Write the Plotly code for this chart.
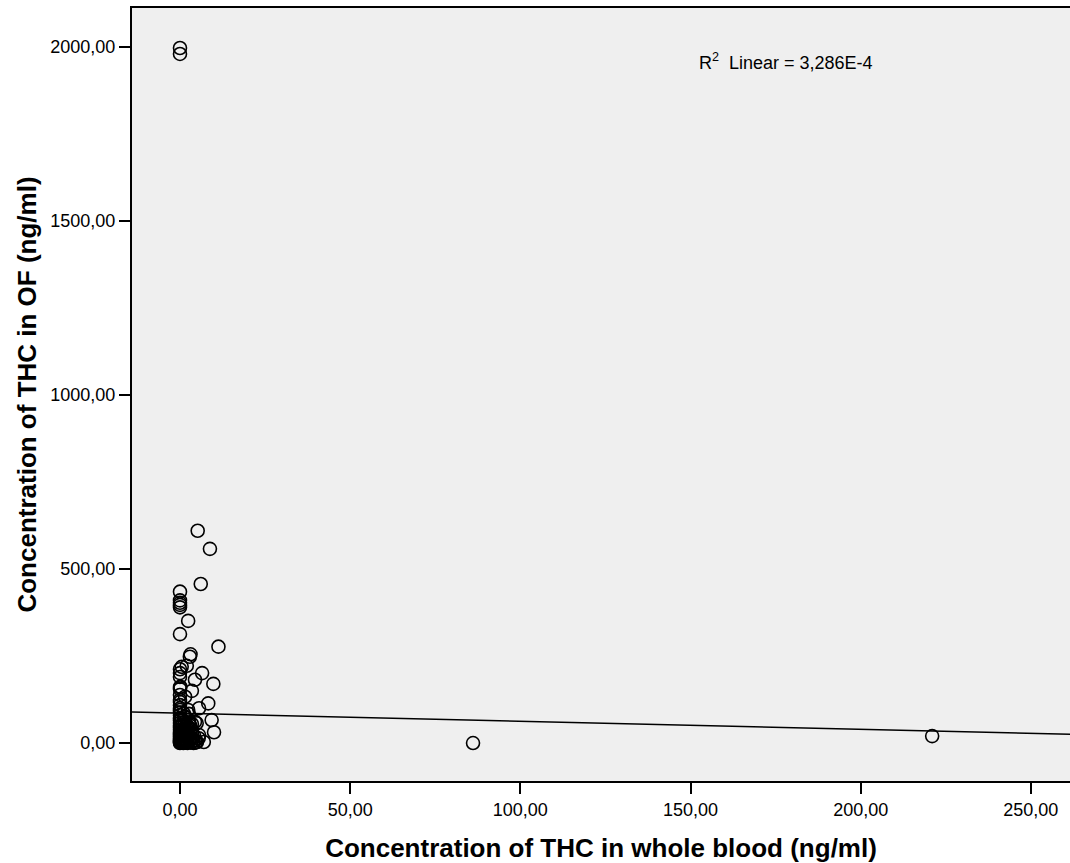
import plotly.graph_objects as go

# THC whole blood (x) vs THC oral fluid (y)
blood_thc = [
    0.0, 0.0, 0.0, 0.0, 0.0, 0.0, 0.0, 0.0, 0.0, 0.0,
    0.0, 0.0, 0.0, 0.0, 0.0, 0.0, 0.0, 0.0, 0.0, 0.0,
    0.0, 0.0, 0.0, 0.0, 0.0, 0.0, 0.0, 0.0, 0.0, 0.0,
    0.0, 0.0, 0.0, 0.0, 0.0, 0.0, 0.0, 0.2, 0.1, 0.3,
    5.2, 8.8, 6.1, 2.4, 11.3, 3.1, 2.9, 2.0, 0.5, 6.5,
    4.4, 9.8, 3.5, 0.1, 8.3, 5.6, 2.4, 9.3, 4.4, 10.0,
    5.6, 7.0, 4.9, 1.5, 1.5, 2.6, 86.1, 221.0,
    0.5, 0.8, 1.0, 1.2, 1.5, 1.8, 2.0, 2.2, 2.5, 2.8,
    3.0, 3.2, 3.5, 3.8, 4.0, 1.0, 1.5, 2.0, 2.5, 3.0,
    0.6, 0.9, 1.3, 1.7, 2.3, 2.7, 3.3, 3.6, 4.2, 4.5,
    5.0, 5.5, 0.4, 1.1, 2.0, 2.6, 1.4, 0.7, 1.9, 3.1,
    0.3, 0.6, 1.2, 2.1, 2.9, 3.9, 4.7, 0.8, 1.6, 2.4,
]
of_thc = [
    1997, 1980, 435, 410, 403, 397, 390, 313, 212, 201,
    190, 160, 155, 138, 124, 118, 109, 100, 95, 88,
    80, 72, 65, 58, 50, 44, 38, 32, 27, 22,
    18, 14, 10, 7, 4, 2, 0, 5, 12, 30,
    610, 558, 457, 351, 277, 255, 248, 222, 219, 201,
    182, 170, 150, 162, 114, 100, 95, 66, 61, 31,
    23, 3, 57, 133, 76, 84, 0, 20,
    3, 10, 0, 20, 5, 35, 15, 0, 45, 8,
    25, 2, 55, 12, 0, 40, 60, 30, 18, 50,
    50, 28, 12, 2, 38, 58, 40, 30, 20, 8,
    3, 14, 70, 85, 52, 62, 75, 1, 6, 10,
    48, 22, 33, 4, 15, 5, 2, 16, 26, 42,
]

# Linear fit shown in the chart
fit_intercept = 85.7
fit_slope = -0.232
x_range = [-14.1, 261.5]
y_range = [-109, 2112]
r2_text = "R<sup>2</sup>  Linear = 3,286E-4"

fig = go.Figure()
fig.add_trace(go.Scatter(
    x=x_range,
    y=[fit_intercept + fit_slope * v for v in x_range],
    mode="lines", line=dict(color="black", width=1.5),
    hoverinfo="skip", showlegend=False,
))
fig.add_trace(go.Scatter(
    x=blood_thc, y=of_thc, mode="markers",
    marker=dict(symbol="circle-open", size=13, color="black",
                line=dict(width=1.6, color="black")),
    showlegend=False,
))

fig.add_annotation(
    x=151.9, y=1957, xref="x", yref="y", text=r2_text,
    showarrow=False, xanchor="left", yanchor="middle",
    font=dict(size=18, color="black", family="Liberation Sans, Arial, sans-serif"),
)

fig.update_layout(
    width=1070, height=863,
    margin=dict(l=132, r=0, t=8, b=82),
    paper_bgcolor="white", plot_bgcolor="#efefef",
    separators=",.",
    font=dict(family="Liberation Sans, Arial, sans-serif", color="black"),
    xaxis=dict(
        range=x_range, tickvals=[0, 50, 100, 150, 200, 250], tickformat=".2f",
        showgrid=False, zeroline=False, automargin=False,
        showline=True, linecolor="black", linewidth=2, mirror=True,
        ticks="outside", ticklen=11, tickwidth=2, tickcolor="black",
        tickfont=dict(size=18),
        title=dict(text="<b>Concentration of THC in whole blood (ng/ml)</b>",
                   font=dict(size=26), standoff=28),
    ),
    yaxis=dict(
        range=y_range, tickvals=[0, 500, 1000, 1500, 2000], tickformat=".2f",
        showgrid=False, zeroline=False, automargin=False,
        showline=True, linecolor="black", linewidth=2,
        ticks="outside", ticklen=11, tickwidth=2, tickcolor="black",
        tickfont=dict(size=18),
        title=dict(text="<b>Concentration of THC in OF (ng/ml)</b>",
                   font=dict(size=26), standoff=6),
    ),
)

# remove the page's default body margin so the figure fills the window exactly
fig.write_html(
    "out.html",
    config={"displayModeBar": False},
    post_script="document.body.style.margin='0';document.body.style.overflow='hidden';",
)
